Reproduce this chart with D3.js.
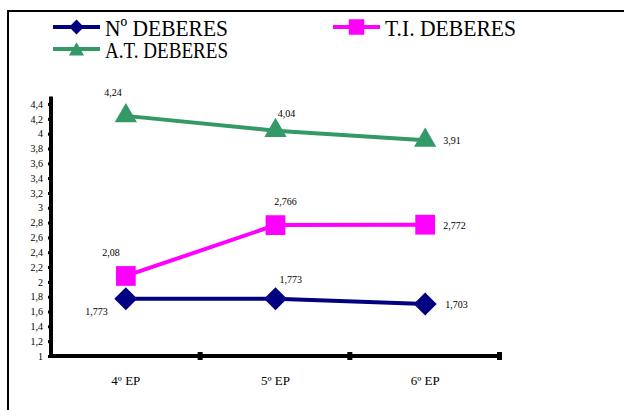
<!DOCTYPE html>
<html>
<head>
  <title>deberes</title>
  <script src="https://d3js.org/d3.v7.min.js"></script>
  <style>
    body { margin: 0; background: #fff; }
  </style>
</head>
<body>
  <svg width="624" height="410" id="mainsvg" style="font-family: 'Liberation Serif'"></svg>
  <script>
    // data
    const courses = ['4º EP', '5º EP', '6º EP'];
    const numDeberes = [1.773, 1.773, 1.703];
    const tiDeberes = [2.08, 2.766, 2.772];
    const atDeberes = [4.24, 4.04, 3.91];
    const yTicks = [1, 1.2, 1.4, 1.6, 1.8, 2, 2.2, 2.4, 2.6, 2.8, 3, 3.2, 3.4, 3.6, 3.8, 4, 4.2, 4.4];

    const SERIF = 'Liberation Serif';

    const series = [
      { name: 'Nº DEBERES', values: numDeberes, color: '#000080', symbol: d3.symbolSquare, rot: 45, size: 265, legSize: 110,
        labels: [[-18, 16, 'end'], [4, -16, 'start'], [20, 4, 'start']] },
      { name: 'T.I. DEBERES', values: tiDeberes, color: '#ff00ff', symbol: d3.symbolSquare, rot: 0, size: 390, legSize: 240,
        labels: [[-6, -20, 'end'], [10, -20, 'middle'], [18, 4, 'start']] },
      { name: 'A.T. DEBERES', values: atDeberes, color: '#339966', symbol: d3.symbolTriangle, rot: 0, size: 215, legSize: 100,
        labels: [[-4, -20, 'end'], [11, -14, 'middle'], [18, 4, 'start']] }
    ];

    const svg = d3.select('#mainsvg');
    const fmt = v => String(v).replace('.', ',');

    // outer frame
    svg.append('rect').attr('x', 8).attr('y', 11).attr('width', 630).attr('height', 420)
      .attr('fill', 'none').attr('stroke', '#000').attr('stroke-width', 2);

    const x = d3.scaleBand().domain(courses).range([51, 500]);
    const y = d3.scaleLinear().domain([1, 4.5]).range([356, 96.6]);
    const cx = d => x(d) + x.bandwidth() / 2;

    // y axis
    const yAxis = svg.append('g').attr('transform', 'translate(51,0)')
      .call(d3.axisLeft(y).tickValues(yTicks).tickSize(3).tickPadding(5).tickFormat(fmt));
    yAxis.attr('font-family', null).attr('font-size', null);
    yAxis.select('.domain').attr('stroke-width', 4).attr('d', 'M0,' + y.range()[1] + 'V' + y.range()[0]);
    yAxis.selectAll('.tick line').attr('stroke-width', 3);
    yAxis.selectAll('text').attr('font-family', SERIF).attr('font-size', 10).attr('fill', '#000');

    // x axis
    const xAxis = svg.append('g').attr('transform', 'translate(0,356)')
      .call(d3.axisBottom(x).tickSize(0).tickPadding(20));
    xAxis.attr('font-family', null).attr('font-size', null);
    xAxis.select('.domain').attr('stroke-width', 4).attr('d', 'M51,0H500');
    xAxis.selectAll('text').attr('font-family', SERIF).attr('font-size', 13).attr('fill', '#000');
    xAxis.selectAll('.sep').data(courses).enter().append('rect').attr('class', 'sep')
      .attr('x', d => x(d) + x.bandwidth() - 3).attr('y', -4).attr('width', 5).attr('height', 8)
      .attr('fill', '#000');

    const line = d3.line().x((v, i) => cx(courses[i])).y(v => y(v));

    series.forEach(s => {
      const g = svg.append('g');
      g.append('path').attr('d', line(s.values)).attr('fill', 'none')
        .attr('stroke', s.color).attr('stroke-width', 4);
      g.selectAll('path.m').data(s.values).enter().append('path').attr('class', 'm')
        .attr('transform', (v, i) => 'translate(' + cx(courses[i]) + ',' + y(v) + ') rotate(' + s.rot + ')')
        .attr('d', d3.symbol().type(s.symbol).size(s.size)).attr('fill', s.color);
      g.selectAll('text').data(s.values).enter().append('text')
        .attr('x', (v, i) => cx(courses[i]) + s.labels[i][0])
        .attr('y', (v, i) => y(v) + s.labels[i][1])
        .attr('text-anchor', (v, i) => s.labels[i][2])
        .attr('font-family', SERIF).attr('font-size', 10).text(fmt);
    });

    // legend, clipped like the original
    svg.append('defs').append('clipPath').attr('id', 'legclip').append('rect')
      .attr('x', 10).attr('y', 12).attr('width', 614).attr('height', 46);
    const leg = svg.append('g').attr('clip-path', 'url(#legclip)');
    const legPos = [[53, 27], [333, 27], [53, 49]];
    series.forEach((s, i) => {
      const [lx, ly] = legPos[i];
      leg.append('line').attr('x1', lx).attr('x2', lx + 47).attr('y1', ly).attr('y2', ly)
        .attr('stroke', s.color).attr('stroke-width', 4);
      leg.append('path').attr('transform', 'translate(' + (lx + 23.5) + ',' + (ly + (i === 2 ? 2 : 0)) + ') rotate(' + s.rot + ')')
        .attr('d', d3.symbol().type(s.symbol).size(s.legSize)).attr('fill', s.color);
      leg.append('text').attr('x', lx + 52).attr('y', ly + 9)
        .attr('font-family', SERIF).attr('font-size', 24)
        .attr('textLength', i === 1 ? 131 : 123)
        .attr('lengthAdjust', 'spacingAndGlyphs').text(s.name);
    });
  </script>
</body>
</html>
